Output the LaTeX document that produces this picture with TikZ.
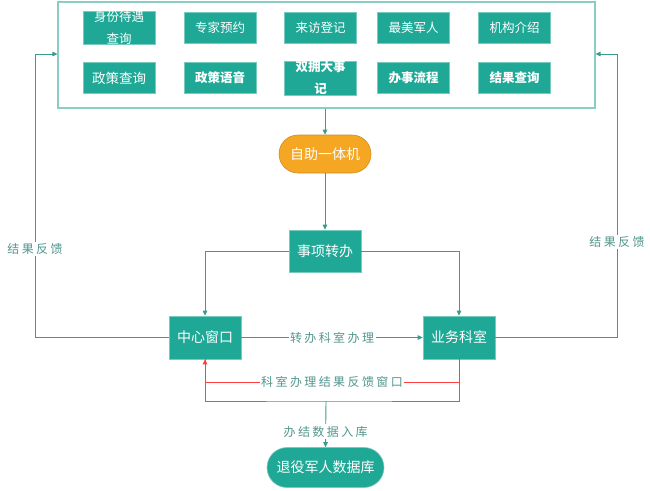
\documentclass[tikz,border=0pt]{standalone}
\usepackage{fontspec}
\setmainfont{Noto Sans CJK SC}
\newfontfamily\cjksp[LetterSpace=20]{Noto Sans CJK SC}
\usetikzlibrary{arrows.meta,shapes.misc}
\definecolor{boxfill}{RGB}{31,168,150}
\definecolor{lin}{RGB}{58,156,141}
\definecolor{outerc}{RGB}{138,205,196}
\definecolor{lab}{RGB}{82,150,142}
\definecolor{orng}{RGB}{245,166,35}
\definecolor{redl}{RGB}{255,64,64}
\begin{document}
\begin{tikzpicture}[x=1pt,y=-1pt,
  >={Triangle[length=5pt,width=4.5pt]},
  tbox/.style={rectangle, fill=boxfill, draw=boxfill!60!white, line width=0.6pt,
    minimum width=72pt, minimum height=31pt, text=white, inner sep=0pt, align=center,
    font=\fontsize{12.5}{22}\selectfont},
  bbox/.style={tbox, font=\fontsize{12.5}{22}\selectfont\bfseries},
  mbox/.style={rectangle, fill=boxfill, draw=boxfill!60!white, line width=0.6pt,
    minimum width=72pt, minimum height=43pt, text=white, inner sep=0pt,
    font=\fontsize{14}{16}\selectfont},
  pill/.style={rounded rectangle, line width=0.6pt, text=white, inner sep=0pt,
    font=\fontsize{14}{16}\selectfont},
  conn/.style={draw=lin, line width=0.9pt},
  arr/.style={conn, ->},
  redarr/.style={draw=redl, line width=0.9pt, ->},
  lbl/.style={fill=white, text=lab, inner sep=1.5pt, font=\cjksp\fontsize{12}{14}\selectfont}
]
\useasboundingbox (0,0) rectangle (650,490);

% outer frame
\node[draw=outerc, line width=1.1pt, minimum width=537pt, minimum height=106pt, inner sep=0pt] (outer) at (326.5,55) {};

% top small boxes
\node[tbox] (b1) at (119,28) {身份待遇\\查询};
\node[tbox] (b2) at (220,28) {专家预约};
\node[tbox] (b3) at (320.5,28) {来访登记};
\node[tbox] (b4) at (413.5,28) {最美军人};
\node[tbox] (b5) at (514.5,28) {机构介绍};
\node[tbox, font=\fontsize{13.5}{16}\selectfont] (c1) at (119,78) {政策查询};
\node[bbox] (c2) at (220,78) {政策语音};
\node[bbox] (c3) at (320.5,78) {双拥大事\\记};
\node[bbox] (c4) at (413.5,78) {办事流程};
\node[bbox] (c5) at (514.5,78) {结果查询};

% main flow nodes
\node[pill, fill=orng, draw=orng!85!black, minimum width=92pt, minimum height=38pt] (zz) at (325,154) {自助一体机};
\node[mbox, minimum height=42pt] (sx) at (325,251) {事项转办};
\node[mbox] (zx) at (205,337.5) {中心窗口};
\node[mbox] (yw) at (459,337.5) {业务科室};
\node[pill, fill=boxfill, draw=boxfill!60!white, minimum width=117pt, minimum height=40pt] (db) at (325.5,467.5) {退役军人数据库};

% helper coordinates
\coordinate (lf) at (35,54);
\coordinate (rf) at (617,54);
\coordinate (ub) at (326,401);
\coordinate (rl) at (332,382);

% connectors
\draw[arr] (outer.south -| zz.north) -- (zz.north);
\draw[arr] (zz.south) -- (sx.north);
\draw[arr] (sx.west) -| (zx.north);
\draw[arr] (sx.east) -| (yw.north);
\draw[arr] (zx.east) -- node[lbl] {转办科室办理} (yw.west);

% bottom teal U and database link
\draw[conn] (zx.south) |- (ub) -| (yw.south);
\draw[arr] (ub) -- node[lbl, pos=0.66] {办结数据入库} (db.north);

% red feedback
\draw[redarr] (yw.south) |- (rl) -| (zx.south);
\node[lbl] at (rl) {科室办理结果反馈窗口};

% side feedback loops
\draw[arr] (zx.west) -| (lf) -- (lf -| outer.west);
\node[lbl] at (35,249) {结果反馈};
\draw[arr] (yw.east) -| (rf) -- (rf -| outer.east);
\node[lbl] at (617,242) {结果反馈};
\end{tikzpicture}
\end{document}
